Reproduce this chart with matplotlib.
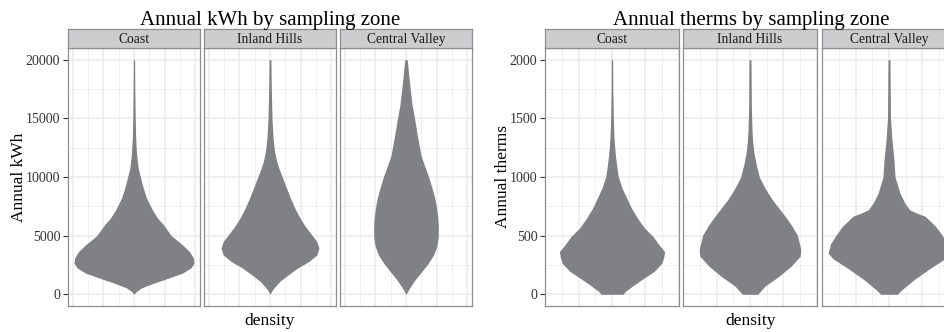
import matplotlib
matplotlib.use('Agg')
import matplotlib.pyplot as plt
import numpy as np

plt.rcParams['font.family'] = ['Liberation Serif', 'DejaVu Serif']

zones = ['Coast', 'Inland Hills', 'Central Valley']

# violin outlines: value level and half-width (density units)
kwh_coast_y = [20000, 17500, 15000, 13300, 11900, 10700, 10000, 9450, 8750, 8200, 7200,
               6500, 5900, 5350, 5000, 4500, 4200, 3650, 3100, 2650, 2250, 1800, 1400,
               950, 550, 200, 0]
kwh_coast_w = [0.02, 0.027, 0.04, 0.055, 0.085, 0.14, 0.21, 0.26, 0.34, 0.41, 0.6,
               0.77, 0.97, 1.12, 1.22, 1.45, 1.59, 1.81, 1.94, 1.96, 1.86, 1.58, 1.15,
               0.65, 0.25, 0.06, 0]

kwh_inland_y = [20000, 17500, 15000, 13300, 12150, 11300, 10600, 10000, 9050, 8200, 7350,
                6500, 5800, 5050, 4500, 3950, 3350, 2800, 2250, 1650, 1100, 550, 200, 0]
kwh_inland_w = [0.03, 0.043, 0.065, 0.1, 0.15, 0.22, 0.31, 0.4, 0.54, 0.67, 0.81,
                0.98, 1.15, 1.37, 1.53, 1.6, 1.53, 1.27, 0.91, 0.59, 0.32, 0.13, 0.04, 0]

kwh_central_y = [20000, 18650, 17250, 16100, 15000, 13850, 12700, 11850, 11000, 10000, 9050,
                 8200, 7350, 6500, 5650, 4800, 4100, 3350, 2650, 1950, 1250, 550, 0]
kwh_central_w = [0.04, 0.09, 0.15, 0.2, 0.28, 0.35, 0.43, 0.49, 0.6, 0.74, 0.85,
                 0.94, 1.0, 1.04, 1.06, 1.05, 1.01, 0.9, 0.73, 0.52, 0.3, 0.12, 0]

therm_coast_y = [2000, 1750, 1500, 1330, 1190, 1075, 1000, 905, 820, 735, 650,
                 565, 495, 420, 365, 320, 265, 195, 140, 80, 25, 0]
therm_coast_w = [0.02, 0.025, 0.04, 0.06, 0.1, 0.15, 0.19, 0.3, 0.44, 0.58, 0.76,
                 0.97, 1.22, 1.41, 1.57, 1.55, 1.49, 1.26, 0.97, 0.66, 0.4, 0.33]

therm_inland_y = [2000, 1600, 1400, 1300, 1200, 1100, 1000, 900, 805, 665, 580, 500,
                  380, 325, 240, 150, 70, 0]
therm_inland_w = [0.03, 0.04, 0.06, 0.08, 0.12, 0.19, 0.28, 0.46, 0.67, 1.05, 1.26, 1.42,
                  1.52, 1.5, 1.23, 0.85, 0.45, 0.23]

therm_central_y = [2000, 1500, 1310, 1145, 1000, 860, 775, 720, 690, 665, 580, 510, 430, 350,
                   300, 225, 125, 30, 0]
therm_central_w = [0.03, 0.045, 0.09, 0.15, 0.18, 0.33, 0.48, 0.62, 0.85, 1.08, 1.39, 1.57, 1.75, 1.82,
                   1.66, 1.25, 0.75, 0.35, 0.25]

kwh_ticks = [0, 5000, 10000, 15000, 20000]
therm_ticks = [0, 500, 1000, 1500, 2000]

W, H = 945, 332
VIOLIN = '#808185'
GRID = '#EBEBEB'
BORDER = '#8E8E8E'


def box(x0, y0, w, h):
    return [x0 / W, 1 - (y0 + h) / H, w / W, h / H]


fig = plt.figure(figsize=(W / 100, H / 100), dpi=100)


def facet_group(x0s, pw, profiles, ticks, ylim, title, ylab, ylab_x, center_x):
    xmax = max(max(w) for _, w in profiles) * 1.1
    for i, (x0, zone, (ys, ws)) in enumerate(zip(x0s, zones, profiles)):
        ax = fig.add_axes(box(x0, 48, pw, 258))
        ys = np.array(ys)
        ws = np.array(ws)
        ax.fill_betweenx(ys, -ws, ws, color=VIOLIN, lw=0, zorder=3)
        ax.set_xlim(-xmax, xmax)
        ax.set_ylim(*ylim)
        ax.set_xticks([-2, -1, 0, 1, 2])
        ax.set_xticks([-1.5, -0.5, 0.5, 1.5], minor=True)
        step = ticks[1] - ticks[0]
        ax.set_yticks(ticks)
        ax.set_yticks([t + step / 2 for t in ticks[:-1]], minor=True)
        ax.grid(which='major', color=GRID, lw=1.1, zorder=0)
        ax.grid(which='minor', color=GRID, lw=0.55, zorder=0)
        ax.set_axisbelow(True)
        ax.tick_params(axis='x', which='both', length=0, labelbottom=False)
        ax.tick_params(axis='y', which='minor', length=0)
        if i == 0:
            ax.set_yticklabels([str(t) for t in ticks])
            ax.tick_params(axis='y', which='major', length=3.5, width=0.8,
                           color='#333333', labelsize=10, labelcolor='#333333', pad=2)
        else:
            ax.tick_params(axis='y', which='major', length=0, labelleft=False)
        for s in ax.spines.values():
            s.set_color(BORDER)
            s.set_linewidth(0.9)

        st = fig.add_axes(box(x0, 29, pw, 19))
        st.set_facecolor('#CDCDCF')
        st.set_xticks([])
        st.set_yticks([])
        for s in st.spines.values():
            s.set_color(BORDER)
            s.set_linewidth(0.9)
        st.text(0.5, 0.45, zone, ha='center', va='center', fontsize=9.8,
                color='#1A1A1A', transform=st.transAxes)

    fig.text(center_x / W, 1 - 25 / H, title, ha='center', va='baseline', fontsize=15)
    fig.text(ylab_x / W, 1 - 177 / H, ylab, ha='center', va='center',
             rotation=90, fontsize=12.5)
    fig.text(center_x / W, 1 - 321 / H, 'density', ha='center', va='center', fontsize=12.5)


facet_group([68, 204, 340], 132,
            [(kwh_coast_y, kwh_coast_w), (kwh_inland_y, kwh_inland_w),
             (kwh_central_y, kwh_central_w)],
            kwh_ticks, (-1000, 21000), 'Annual kWh by sampling zone', 'Annual kWh', 19, 270)

facet_group([545, 683, 822], 134,
            [(therm_coast_y, therm_coast_w), (therm_inland_y, therm_inland_w),
             (therm_central_y, therm_central_w)],
            therm_ticks, (-100, 2100), 'Annual therms by sampling zone', 'Annual therms', 503, 751)

fig.savefig('out.png', dpi=100)
